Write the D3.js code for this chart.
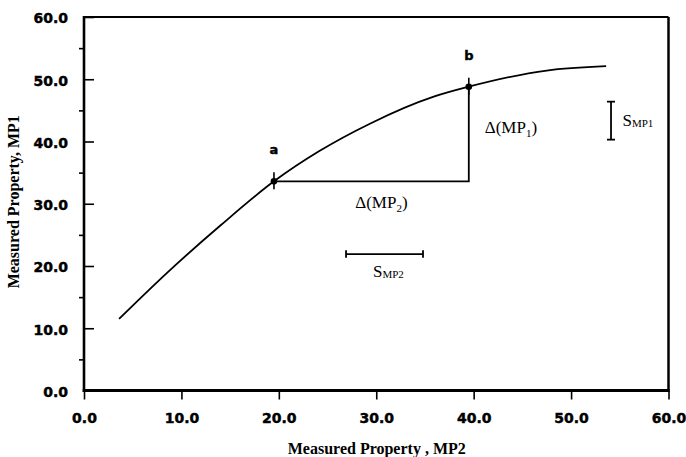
<!DOCTYPE html>
<html>
<head>
<meta charset="utf-8">
<script src="https://cdn.jsdelivr.net/npm/d3@7"></script>
<style>
  html, body { margin: 0; padding: 0; background: #fff; }
  svg { display: block; }
</style>
</head>
<body>
<svg id="chart" width="686" height="457"></svg>
<script>
// Response curve MP1 = f(MP2)
const curveMP2 = [3.6, 8.8, 14.0, 19.5, 24.2, 29.4, 35.9, 39.5, 47.5, 53.6];
const curveMP1 = [11.5, 19.3, 26.5, 33.6, 38.5, 42.9, 47.2, 48.8, 51.4, 52.1];

// Two marked points on the curve
const pointNames = ["a", "b"];
const pointMP2 = [19.5, 39.5];
const pointMP1 = [33.6, 48.8];

// Uncertainty bars: S_MP2 (horizontal), S_MP1 (vertical)
const sMP2Range = [26.9, 34.8];
const sMP2At = 21.9;
const sMP1Range = [40.3, 46.4];
const sMP1At = 54.1;

// Axis ticks
const majorTicks = [0, 10, 20, 30, 40, 50, 60];
const minorTicks = [5, 15, 25, 35, 45, 55];

const svg = d3.select("#chart");
const W = 686, H = 457;
const margin = { top: 17, right: 17.5, bottom: 66.5, left: 84 };

const x = d3.scaleLinear().domain([0, 60]).range([margin.left, W - margin.right]);
const y = d3.scaleLinear().domain([0, 60]).range([H - margin.bottom, margin.top]);
const fmt = d3.format(".1f");

const tickFont = "'DejaVu Sans', sans-serif";
const serif = "'Liberation Serif', 'Times New Roman', serif";

// Y axis: major ticks point inward, minor ticks point outward
const yMajor = svg.append("g")
  .attr("transform", `translate(${margin.left},0)`)
  .call(d3.axisLeft(y).tickValues(majorTicks).tickSize(-10).tickPadding(16).tickFormat(fmt));
const yMinor = svg.append("g")
  .attr("transform", `translate(${margin.left},0)`)
  .call(d3.axisLeft(y).tickValues(minorTicks).tickSize(5).tickFormat(""));

// X axis: ticks point outward
const xAxis = svg.append("g")
  .attr("transform", `translate(0,${y(0)})`)
  .call(d3.axisBottom(x).tickValues(majorTicks).tickSize(9).tickPadding(13.5).tickFormat(fmt));

[yMajor, yMinor, xAxis].forEach(g => {
  g.select(".domain").remove();
  g.selectAll(".tick line").attr("stroke", "#000").attr("stroke-width", 1.6);
  g.selectAll(".tick text")
    .attr("fill", "#000")
    .attr("stroke", "#000")
    .attr("stroke-width", 0.45)
    .style("font-family", tickFont)
    .style("font-weight", "bold")
    .style("font-size", "14px");
});
yMajor.selectAll(".tick text").attr("dy", "0.42em");

// Frame: heavier left and bottom edges
const x0 = x(0), x1 = x(60), y0 = y(0), y1 = y(60);
svg.append("line").attr("x1", x0).attr("x2", x1).attr("y1", y1).attr("y2", y1)
  .attr("stroke", "#000").attr("stroke-width", 2);
svg.append("line").attr("x1", x1).attr("x2", x1).attr("y1", y1).attr("y2", y0)
  .attr("stroke", "#000").attr("stroke-width", 2.5);
svg.append("line").attr("x1", x0).attr("x2", x0).attr("y1", y1 - 1).attr("y2", y0 + 1.5)
  .attr("stroke", "#000").attr("stroke-width", 2.6);
svg.append("line").attr("x1", x0 - 1.3).attr("x2", x1 + 1.2).attr("y1", y0).attr("y2", y0)
  .attr("stroke", "#000").attr("stroke-width", 3);

// Axis titles
svg.append("text")
  .attr("x", (x0 + x1) / 2 + 0.5).attr("y", 454)
  .attr("text-anchor", "middle")
  .style("font-family", serif).style("font-weight", "bold").style("font-size", "16px")
  .text("Measured Property , MP2");
svg.append("text")
  .attr("transform", `translate(19,${(y0 + y1) / 2 - 2}) rotate(-90)`)
  .attr("text-anchor", "middle")
  .style("font-family", serif).style("font-weight", "bold").style("font-size", "16px")
  .text("Measured Property, MP1");

// Curve
const curveData = curveMP2.map((v, i) => [v, curveMP1[i]]);
svg.append("path")
  .datum(curveData)
  .attr("fill", "none")
  .attr("stroke", "#000")
  .attr("stroke-width", 1.8)
  .attr("d", d3.line().x(d => x(d[0])).y(d => y(d[1])).curve(d3.curveMonotoneX));

// Difference legs from a to b
svg.append("path")
  .attr("fill", "none").attr("stroke", "#000").attr("stroke-width", 1.8)
  .attr("d", d3.line()([
    [x(pointMP2[0]), y(pointMP1[0])],
    [x(pointMP2[1]), y(pointMP1[0])],
    [x(pointMP2[1]), y(pointMP1[1])]
  ]));

// Point markers and labels
pointNames.forEach((name, i) => {
  const px = x(pointMP2[i]), py = y(pointMP1[i]);
  svg.append("line").attr("x1", px).attr("x2", px).attr("y1", py - 9).attr("y2", py + 8)
    .attr("stroke", "#000").attr("stroke-width", 1.6);
  svg.append("circle").attr("cx", px).attr("cy", py).attr("r", 3.3).attr("fill", "#000");
  svg.append("text")
    .attr("x", px).attr("y", py - (i === 0 ? 27 : 26.5))
    .attr("text-anchor", "middle")
    .attr("stroke", "#000").attr("stroke-width", 0.4)
    .style("font-family", tickFont).style("font-weight", "bold").style("font-size", "13px")
    .text(name);
});

// Δ labels with subscripts
function deltaLabel(tx, ty, anchor, sub) {
  const t = svg.append("text")
    .attr("x", tx).attr("y", ty).attr("text-anchor", anchor)
    .style("font-family", serif).style("font-size", "17px");
  t.append("tspan").text("\u0394(MP");
  t.append("tspan").attr("dy", 4).style("font-size", "11px").text(sub);
  t.append("tspan").attr("dy", -4).text(")");
}
deltaLabel(x((pointMP2[0] + pointMP2[1]) / 2) + 10, 208, "middle", "2");
deltaLabel(x(pointMP2[1]) + 16, 133, "start", "1");

// S_MP2 horizontal bar
const sy = y(sMP2At);
svg.append("line").attr("x1", x(sMP2Range[0])).attr("x2", x(sMP2Range[1])).attr("y1", sy).attr("y2", sy)
  .attr("stroke", "#000").attr("stroke-width", 1.8);
sMP2Range.forEach(v => {
  svg.append("line").attr("x1", x(v)).attr("x2", x(v)).attr("y1", sy - 4).attr("y2", sy + 3.5)
    .attr("stroke", "#000").attr("stroke-width", 1.8);
});

// S_MP1 vertical bar
const sx = x(sMP1At);
svg.append("line").attr("x1", sx).attr("x2", sx).attr("y1", y(sMP1Range[0])).attr("y2", y(sMP1Range[1]))
  .attr("stroke", "#000").attr("stroke-width", 1.8);
sMP1Range.forEach(v => {
  svg.append("line").attr("x1", sx - 4).attr("x2", sx + 4).attr("y1", y(v)).attr("y2", y(v))
    .attr("stroke", "#000").attr("stroke-width", 1.8);
});

// S labels
function sLabel(tx, ty, sub) {
  const t = svg.append("text")
    .attr("x", tx).attr("y", ty)
    .style("font-family", serif).style("font-size", "17px");
  t.append("tspan").text("S");
  t.append("tspan").attr("dy", 1).style("font-size", "11px").text(sub);
}
sLabel(373, 277, "MP2");
sLabel(622.5, 126, "MP1");
</script>
</body>
</html>
